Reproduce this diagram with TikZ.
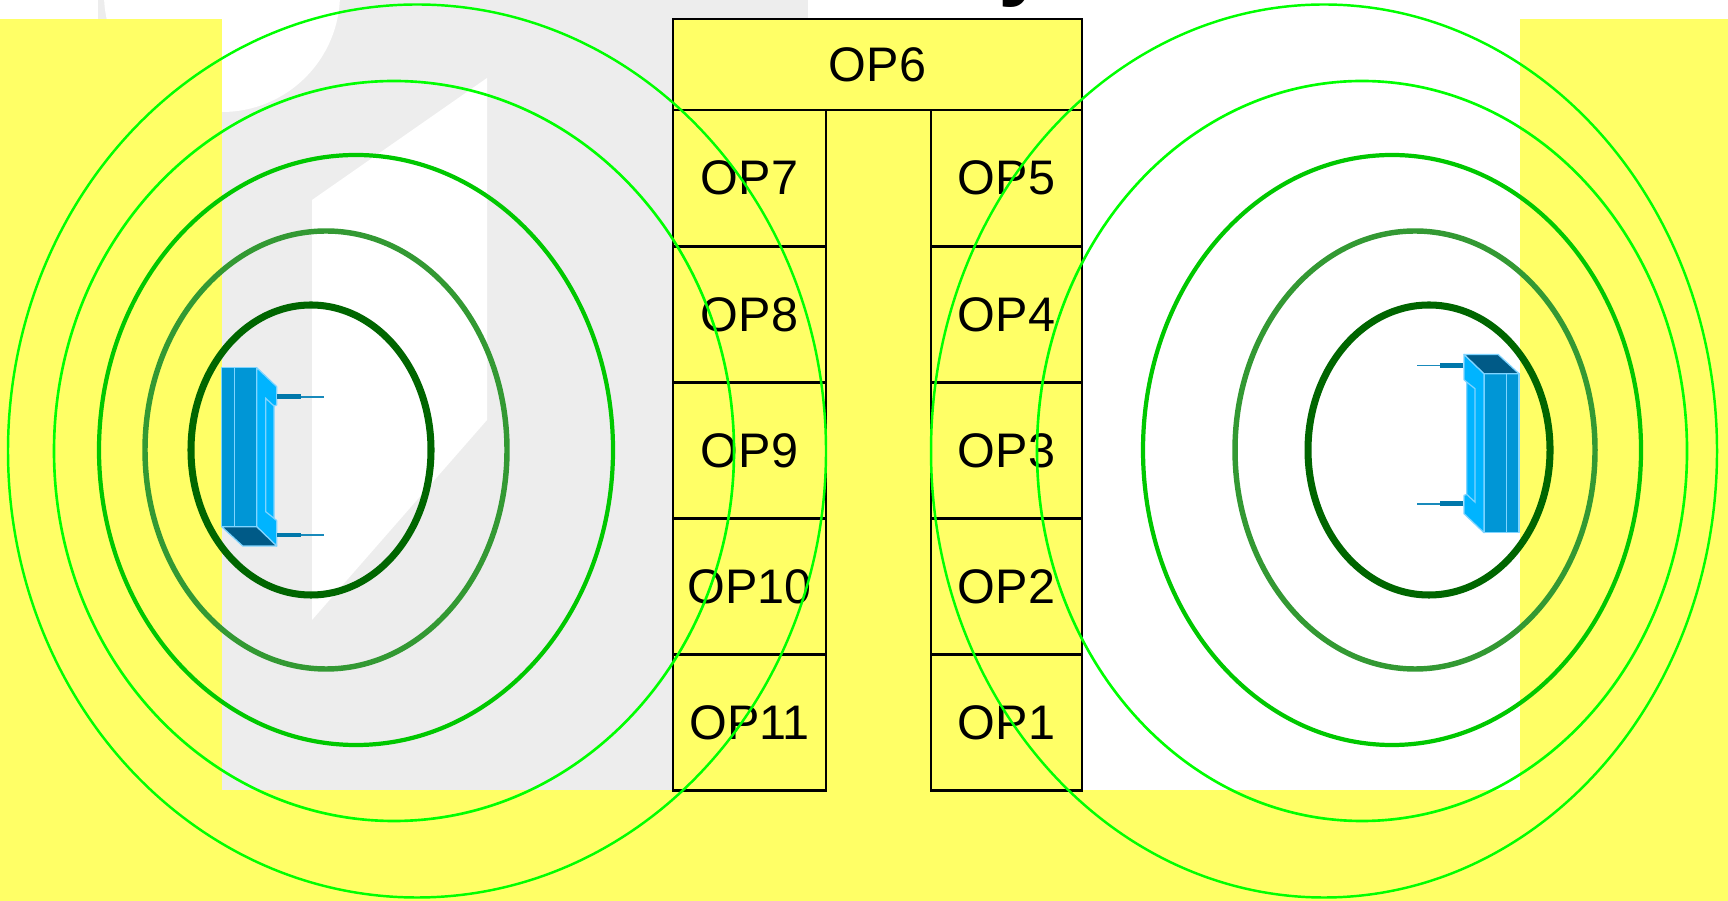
\documentclass[tikz,border=0pt]{standalone}
\usepackage{fontspec}
\setmainfont{Liberation Sans}
\definecolor{bgyellow}{HTML}{FFFF66}
\definecolor{wmgray}{HTML}{EDEDED}
\definecolor{ringA}{HTML}{006600}
\definecolor{ringB}{HTML}{339933}
\definecolor{ringC}{HTML}{00C800}
\definecolor{ringD}{HTML}{00FF00}
\definecolor{devblue}{HTML}{0096D6}
\definecolor{devcyan}{HTML}{00B4FF}
\definecolor{devdark}{HTML}{005A87}
\definecolor{devline}{HTML}{7FD4FF}
\definecolor{devpin}{HTML}{0077AA}

% sensor bar, drawn from its front top-left corner
\newcommand{\sensorbar}{%
  \filldraw[devface] (0,0) rectangle (35,159);
  \draw[devedge] (12.6,0) -- (12.6,159);
  \filldraw[devface,fill=devcyan] (35,0) -- (55,19) -- (55,37.3) -- (52.3,38.3) -- (52.3,150.6) -- (55,153) -- (55,178.3) -- (35,159) -- cycle;
  \draw[devedge] (52.3,38.3) -- (44,30.6) -- (44,144) -- (52.3,150.6);
  \filldraw[devface,fill=devdark] (0,159) -- (35,159) -- (55,178.3) -- (21,178.3) -- cycle;
  \draw[pinthick] (55.6,29) -- (79,29);
  \draw[pinthin] (79,29) -- (102.3,29);
  \draw[pinthick] (55.6,167.3) -- (79,167.3);
  \draw[pinthin] (79,167.3) -- (102.3,167.3);
}

\begin{document}
\begin{tikzpicture}[x=0.01cm,y=-0.01cm,
    opbox/.style={draw=black,line width=0.6pt,fill=bgyellow,inner sep=0pt,
      minimum width=#1,minimum height=1.36cm,font=\fontsize{13.8}{16}\selectfont},
    opbox/.default=1.53cm,
    ring/.style 2 args={draw=#1,line width=#2},
    devface/.style={fill=devblue,draw=devline,line width=0.35pt,line join=round},
    devedge/.style={draw=devline,line width=0.35pt},
    pinthick/.style={draw=devpin,line width=1.3pt},
    pinthin/.style={draw=devpin!80!devline,line width=0.5pt}]
  \useasboundingbox (0,0) rectangle (1728,901);

  %% the background
  \fill[bgyellow] (0,0) rectangle (1728,901);
  \fill[white] (0,0) rectangle (1728,19);
  \fill[white] (222,19) rectangle (1520,790);

  %% watermark
  \begin{scope}
    \clip (0,0) rectangle (1728,19) (222,19) rectangle (1520,790);
    \fill[wmgray] (98,0) rectangle (808,19);
    \fill[wmgray] (222,19) rectangle (673,790);
    \fill[white] (222,-6) circle [radius=118];
    \fill[white] (312,200) -- (487,78) -- (487,420) -- (312,620) -- cycle;
  \end{scope}
  \node[anchor=base,inner sep=0pt,font=\fontsize{26}{26}\selectfont\bfseries] (ytail) at (1024,-11) {y};

  %%%%%%% the boxes
  \fill[bgyellow] (826,110) rectangle (931,790); % gap
  \node[opbox=4.09cm,minimum height=0.91cm] (op6) at (877.5,64.5) {OP6};
  \node[opbox] (op7) at (749.5,178) {OP7};
  \node[opbox] (op8) at (749.5,314.5) {OP8};
  \node[opbox] (op9) at (749.5,450.5) {OP9};
  \node[opbox] (op10) at (749.5,586.5) {OP10};
  \node[opbox] (op11) at (749.5,722.5) {OP11};
  \node[opbox=1.51cm] (op5) at (1006.5,178) {OP5};
  \node[opbox=1.51cm] (op4) at (1006.5,314.5) {OP4};
  \node[opbox=1.51cm] (op3) at (1006.5,450.5) {OP3};
  \node[opbox=1.51cm] (op2) at (1006.5,586.5) {OP2};
  \node[opbox=1.51cm] (op1) at (1006.5,722.5) {OP1};

  %% left field
  \draw[ring={ringA}{2pt}] (311,450) ellipse [x radius=120,y radius=145];
  \draw[ring={ringB}{1.55pt}] (326,450) ellipse [x radius=181,y radius=219];
  \draw[ring={ringC}{1.2pt}] (356,450) ellipse [x radius=257,y radius=295];
  \draw[ring={ringD}{0.75pt}] (394,451) ellipse [x radius=340,y radius=370];
  \draw[ring={ringD}{0.7pt}] (417,451) ellipse [x radius=409,y radius=446.5];
  %% right field
  \draw[ring={ringA}{2pt}] (1429,450) ellipse [x radius=121,y radius=145];
  \draw[ring={ringB}{1.55pt}] (1415,450) ellipse [x radius=180,y radius=219];
  \draw[ring={ringC}{1.2pt}] (1392,450) ellipse [x radius=249,y radius=295];
  \draw[ring={ringD}{0.75pt}] (1362,451) ellipse [x radius=325,y radius=370];
  \draw[ring={ringD}{0.7pt}] (1324,451) ellipse [x radius=393,y radius=446.5];

  %% sensors
  \begin{scope}[shift={(221.7,367.7)}]
    \sensorbar
  \end{scope}
  \begin{scope}[rotate around={180:(870.35,450.2)},shift={(221.7,367.7)}]
    \sensorbar
  \end{scope}
\end{tikzpicture}
\end{document}
